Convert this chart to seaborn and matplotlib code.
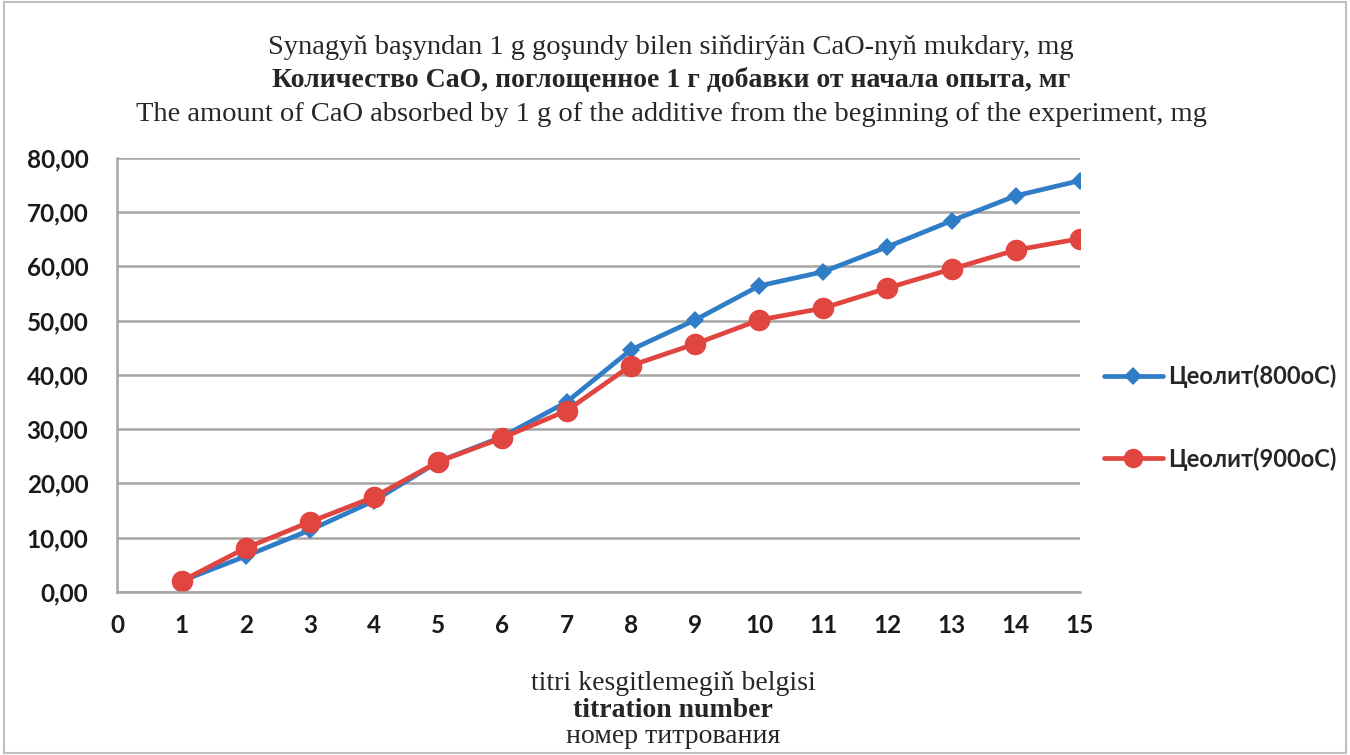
import matplotlib
matplotlib.use("Agg")
import matplotlib.pyplot as plt
import seaborn as sns
import pandas as pd
from matplotlib.patches import Rectangle
from matplotlib.lines import Line2D

titration = list(range(1, 16))
zeolite_800 = [2.0, 6.6, 11.4, 16.8, 24.0, 28.6, 35.0, 44.6, 50.1, 56.4, 59.0, 63.6, 68.4, 73.0, 75.8]
zeolite_900 = [2.0, 8.1, 12.9, 17.5, 24.0, 28.4, 33.4, 41.7, 45.7, 50.1, 52.3, 56.0, 59.5, 63.0, 65.1]
series_names = ["Цеолит(800oC)", "Цеолит(900oC)"]
x_ticks = list(range(0, 16))
y_ticks = [0, 10, 20, 30, 40, 50, 60, 70, 80]

title_lines = [
    "Synagyň başyndan 1 g goşundy bilen siňdirýän CaO-nyň mukdary, mg",
    "Количество CaO, поглощенное 1 г добавки от начала опыта, мг",
    "The amount of CaO absorbed by 1 g of the additive from the beginning of the experiment, mg",
]
xlabel_lines = ["titri kesgitlemegiň belgisi", "titration number", "номер титрования"]

df = pd.DataFrame({
    "x": titration * 2,
    "y": zeolite_800 + zeolite_900,
    "series": [series_names[0]] * 15 + [series_names[1]] * 15,
})

sns.set_theme(style="white")
plt.rcParams["font.family"] = ["Lato", "DejaVu Sans"]

blue = "#2F7DC6"
red = "#E04540"

fig = plt.figure(figsize=(13.5, 7.55), dpi=100)
ax = fig.add_axes([0.087, 0.216, 0.713, 0.575])

sns.lineplot(data=df, x="x", y="y", hue="series", style="series",
             palette={series_names[0]: blue, series_names[1]: red},
             markers={series_names[0]: "D", series_names[1]: "o"},
             dashes=False, linewidth=3.4, markeredgewidth=0,
             ax=ax, legend=False)
for line, ms in zip(ax.lines, [9, 15.5]):
    line.set_markersize(ms)

ax.set_xlim(0, 15)
ax.set_ylim(0, 80)
ax.set_xticks(x_ticks)
ax.set_yticks(y_ticks)
ax.set_xticklabels([str(t) for t in x_ticks], fontsize=17.5, fontweight="bold")
ax.set_yticklabels([f"{v:.2f}".replace(".", ",") for v in y_ticks], fontsize=17.5, fontweight="bold")
ax.set_xlabel("")
ax.set_ylabel("")
ax.grid(axis="y", color="#A8A4A4", linewidth=1.8)
ax.set_axisbelow(True)
for s in ["top", "right"]:
    ax.spines[s].set_visible(False)
for s in ["left", "bottom"]:
    ax.spines[s].set_color("#A8A4A4")
    ax.spines[s].set_linewidth(1.8)
ax.tick_params(axis="both", direction="out", length=7, width=1.5, color="#A8A4A4",
               labelcolor="#1A1A1A")
ax.tick_params(axis="x", pad=9)
ax.tick_params(axis="y", pad=14)

# titles
fonts_serif = ["Liberation Serif", "DejaVu Serif"]
cx = 0.497
fig.text(cx, 0.937, title_lines[0], ha="center", va="center", fontsize=20.5, family=fonts_serif)
fig.text(cx, 0.894, title_lines[1], ha="center", va="center", fontsize=20, fontweight="bold", family=fonts_serif)
fig.text(cx, 0.849, title_lines[2], ha="center", va="center", fontsize=20.5, family=fonts_serif)

lx = 0.4985
fig.text(lx, 0.095, xlabel_lines[0], ha="center", va="center", fontsize=20, family=fonts_serif)
fig.text(lx, 0.059, xlabel_lines[1], ha="center", va="center", fontsize=20, fontweight="bold", family=fonts_serif)
fig.text(lx, 0.024, xlabel_lines[2], ha="center", va="center", fontsize=20, family=fonts_serif)

handles = [
    Line2D([0], [0], color=blue, lw=3.4, marker="D", markersize=9, markeredgewidth=0),
    Line2D([0], [0], color=red, lw=3.4, marker="o", markersize=14, markeredgewidth=0),
]
fig.legend(handles, series_names, loc="center left", bbox_to_anchor=(0.802, 0.447),
           frameon=False, handlelength=2.5, handletextpad=0.2,
           labelspacing=2.5, prop={"family": ["Lato", "DejaVu Sans"], "size": 17, "weight": "bold"})

fig.patches.append(Rectangle((0.003, 0.003), 0.994, 0.994, transform=fig.transFigure,
                             fill=False, edgecolor="#BFBFBF", linewidth=1.5))

fig.savefig("out.png", dpi=100)
